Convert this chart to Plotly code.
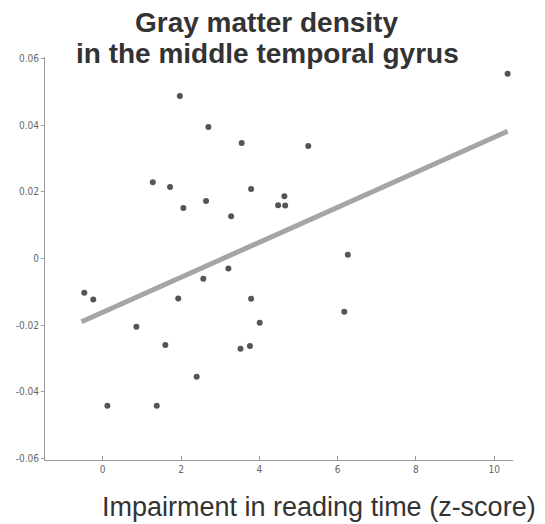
import plotly.graph_objects as go

# Data
x_vals = [1.97, 2.70, 3.55, 5.25, 1.28, 1.72, 3.79, 2.64, 4.64, 4.48,
          4.66, 2.06, 3.28, 6.26, 3.21, 2.57, -0.47, -0.24, 1.93, 3.79,
          6.17, 0.86, 4.01, 1.60, 3.52, 3.76, 2.40, 0.12, 1.38, 10.34]
y_vals = [0.0488, 0.0395, 0.0347, 0.0338, 0.0229, 0.0215, 0.0209, 0.0173, 0.0187, 0.0160,
          0.0159, 0.0152, 0.0127, 0.0011, -0.0030, -0.0061, -0.0103, -0.0123, -0.0120, -0.0121,
          -0.0160, -0.0205, -0.0193, -0.0260, -0.0271, -0.0263, -0.0355, -0.0442, -0.0442, 0.0555]
fit_x = [-0.54, 10.34]
fit_y = [-0.0190, 0.0382]

x_ticks = [0, 2, 4, 6, 8, 10]
y_ticks = [-0.06, -0.04, -0.02, 0, 0.02, 0.04, 0.06]
y_tick_text = ["-0.06", "-0.04", "-0.02", "0", "0.02", "0.04", "0.06"]

title_line1 = "Gray matter density"
title_line2 = "in the middle temporal gyrus"
x_title = "Impairment in reading time (z-score)"

W, H = 545, 524
L, R, T, B = 45, 32, 57, 64
pw, ph = W - L - R, H - T - B

def px(xp):
    return (xp - L) / pw

def py(yp):
    return (H - B - yp) / ph

fig = go.Figure()
fig.add_trace(go.Scatter(x=fit_x, y=fit_y, mode="lines",
                         line=dict(color="#a8a4a4", width=5), showlegend=False))
fig.add_trace(go.Scatter(x=x_vals, y=y_vals, mode="markers",
                         marker=dict(color="#555555", size=6), showlegend=False))

tick_font = dict(family="Liberation Sans Narrow, DejaVu Sans Condensed, Arial", size=10, color="#666666")
fig.update_layout(
    width=W, height=H,
    margin=dict(l=L, r=R, t=T, b=B),
    paper_bgcolor="white", plot_bgcolor="white",
    xaxis=dict(range=[-1.473, 10.478], tickvals=x_ticks, ticktext=[str(v) for v in x_ticks],
               showgrid=False, zeroline=False, showline=True, linecolor="#9a9a9a", linewidth=1,
               ticks="inside", ticklen=4, tickcolor="#9a9a9a", automargin=False,
               tickfont=tick_font),
    yaxis=dict(range=[-0.0605, 0.0605], tickvals=y_ticks, ticktext=y_tick_text,
               showgrid=False, zeroline=False, showline=True, linecolor="#9a9a9a", linewidth=1,
               ticks="outside", ticklen=3, tickcolor="#9a9a9a", automargin=False,
               tickfont=tick_font),
    annotations=[
        dict(text="<b>" + title_line1 + "</b>", xref="paper", yref="paper", x=px(266), y=py(22.5),
             xanchor="center", yanchor="middle", showarrow=False,
             font=dict(family="Liberation Sans, Arial", size=28, color="#333333")),
        dict(text="<b>" + title_line2 + "</b>", xref="paper", yref="paper", x=px(267.5), y=py(53.5),
             xanchor="center", yanchor="middle", showarrow=False,
             font=dict(family="Liberation Sans, Arial", size=28, color="#333333")),
        dict(text=x_title, xref="paper", yref="paper", x=px(319), y=py(507),
             xanchor="center", yanchor="middle", showarrow=False,
             font=dict(family="Liberation Sans, Arial", size=27, color="#333333")),
    ],
)

fig.write_html("out.html", config={"displayModeBar": False},
               post_script="document.body.style.margin='0';")
